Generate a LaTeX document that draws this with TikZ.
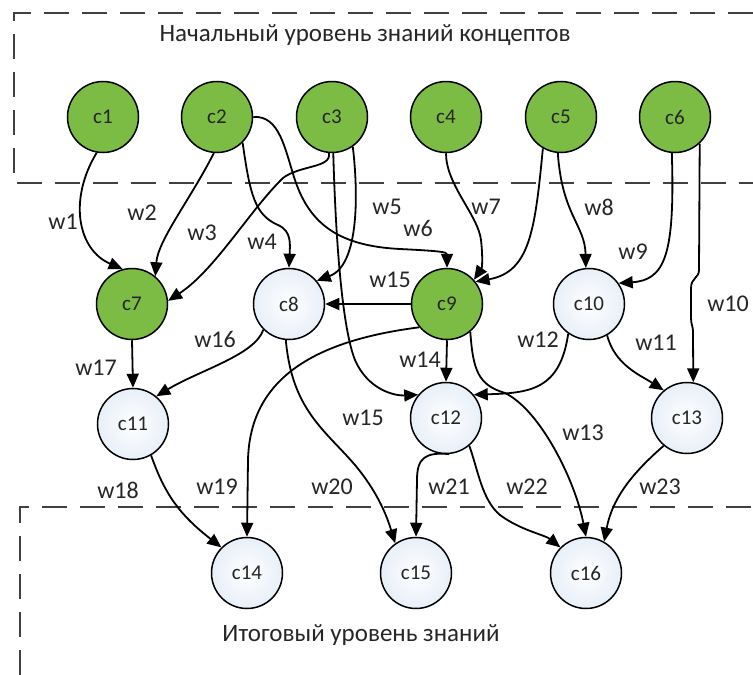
\documentclass[tikz,border=0pt]{standalone}
\usepackage{fontspec}
\setmainfont{Carlito}
\usetikzlibrary{arrows.meta}
\definecolor{cgreen}{RGB}{124,188,68}
\definecolor{cpale}{RGB}{232,239,248}
\begin{document}
\begin{tikzpicture}[x=1pt,y=-1pt,
  cn/.style={circle,draw=black,line width=1.5pt,minimum size=71pt,inner sep=0pt,text=black!85,font=\fontsize{21}{24}\selectfont},
  gn/.style={cn,fill=cgreen},
  wn/.style={cn,inner color=white,outer color=cpale},
  lbl/.style={font=\fontsize{24}{28}\selectfont,inner sep=0pt,text=black!85},
  ttl/.style={font=\fontsize{25}{29}\selectfont,inner sep=0pt,text=black!85},
  arr/.style={line width=1.8pt,-{Triangle[length=14pt,width=12pt]}},
  zone/.style={line width=1.8pt,black!75,dash pattern=on 25pt off 13pt}]
\useasboundingbox (0,0) rectangle (753,675);
\fill[white] (0,0) rectangle (753,675);

% zones
\draw[zone] (753,13) -- (14,13) -- (14,183) -- (753,183);
\draw[zone] (20,675) -- (20,507) -- (753,507);
\node[ttl] (t1) at (365,35) {Начальный уровень знаний концептов};
\node[ttl] (t2) at (361,635) {Итоговый уровень знаний};

% nodes
\node[gn] (c1) at (103,117) {c1};
\node[gn] (c2) at (217,117) {c2};
\node[gn] (c3) at (332,117) {c3};
\node[gn] (c4) at (446,117) {c4};
\node[gn] (c5) at (561,117) {c5};
\node[gn] (c6) at (675,117) {c6};
\node[gn] (c7) at (132,304) {c7};
\node[wn] (c8) at (289,304) {c8};
\node[gn] (c9) at (447,304) {c9};
\node[wn] (c10) at (589,304) {c10};
\node[wn] (c11) at (133,424) {c11};
\node[wn] (c12) at (446,418) {c12};
\node[wn] (c13) at (687,418) {c13};
\node[wn] (c14) at (247,573) {c14};
\node[wn] (c15) at (416,573) {c15};
\node[wn] (c16) at (586,573) {c16};

% connectors
\draw[arr] (c1.260) .. controls (68,200) and (78,250) .. (c7.105);
\draw[arr] (c2.265) .. controls (190,200) and (158,240) .. (c7.50);
\draw[arr] (c3.265) .. controls (332,168) and (300,165) .. (283,178) .. controls (250,210) and (215,270) .. (c7.5);
\draw[arr] (c2.315) .. controls (250,195) and (255,215) .. (278,225) .. controls (292,231) and (290,245) .. (c8.north);
\draw[arr] (c3.305) .. controls (358,190) and (360,265) .. (c8.40);
\draw[arr] (c2.east) .. controls (280,115) and (285,150) .. (295,180) .. controls (310,225) and (340,246) .. (400,249) .. controls (440,251) and (447,252) .. (c9.north);
\draw[arr] (c4.south) .. controls (446,185) and (478,215) .. (481,240) .. controls (483,258) and (482,268) .. (c9.42);
\draw[arr] (c5.240) .. controls (535,230) and (530,272) .. (c9.38);
\draw[arr] (c5.265) .. controls (562,215) and (585,225) .. (c10.95);
\draw[arr] (c6.265) .. controls (675,255) and (665,280) .. (c10.35);
\draw[arr] (c6.313) -- (699,270) .. controls (699,278) and (691,278) .. (691,288) -- (691,318) .. controls (691,325) and (693,325) .. (693,333) -- (c13.80);
\draw[arr] (c10.300) .. controls (615,365) and (640,375) .. (c13.130);
\draw[arr] (c10.235) .. controls (560,390) and (530,393) .. (c12.40);
\draw[arr] (c9.310) .. controls (473,370) and (478,385) .. (505,393) .. controls (540,410) and (575,480) .. (c16.north);
\draw[arr] (c9.south) -- (c12.north);
\draw[arr] (c9.west) -- (c8.east);
\draw[arr] (c3.272) .. controls (336,250) and (343,330) .. (355,360) .. controls (368,390) and (395,396) .. (c12.140);
\draw[arr] (c8.225) .. controls (255,355) and (200,370) .. (c11.50);
\draw[arr] (c7.south) -- (c11.north);
\draw[arr] (c11.300) .. controls (165,495) and (180,515) .. (c14.135);
\draw[arr] (c9.220) .. controls (320,340) and (250,375) .. (248,460) -- (c14.north);
\draw[arr] (c8.265) .. controls (292,410) and (325,430) .. (355,465) .. controls (380,495) and (388,520) .. (c15.125);
\draw[arr] (c12.275) .. controls (425,452) and (417,458) .. (417,480) -- (c15.north);
\draw[arr] (c12.310) .. controls (478,470) and (482,500) .. (500,515) .. controls (520,530) and (545,535) .. (c16.135);
\draw[arr] (c13.230) .. controls (630,475) and (612,500) .. (c16.60);

% labels
\node[lbl] (w1) at (63,222) {w1};
\node[lbl] (w2) at (142,213) {w2};
\node[lbl] (w3) at (202,233) {w3};
\node[lbl] (w4) at (262,242) {w4};
\node[lbl] (w5) at (387,207) {w5};
\node[lbl] (w6) at (418,228) {w6};
\node[lbl] (w7) at (486,207) {w7};
\node[lbl] (w8) at (599,207) {w8};
\node[lbl] (w9) at (633,252) {w9};
\node[lbl] (w10) at (728,304) {w10};
\node[lbl] (w11) at (656,343) {w11};
\node[lbl] (w12) at (538,340) {w12};
\node[lbl] (w13) at (583,433) {w13};
\node[lbl] (w14) at (420,360) {w14};
\node[lbl] (w15a) at (390,280) {w15};
\node[lbl] (w15b) at (363,418) {w15};
\node[lbl] (w16) at (215,339) {w16};
\node[lbl] (w17) at (96,368) {w17};
\node[lbl] (w18) at (118,490) {w18};
\node[lbl] (w19) at (217,487) {w19};
\node[lbl] (w20) at (332,487) {w20};
\node[lbl] (w21) at (449,487) {w21};
\node[lbl] (w22) at (527,487) {w22};
\node[lbl] (w23) at (660,487) {w23};
\end{tikzpicture}
\end{document}
